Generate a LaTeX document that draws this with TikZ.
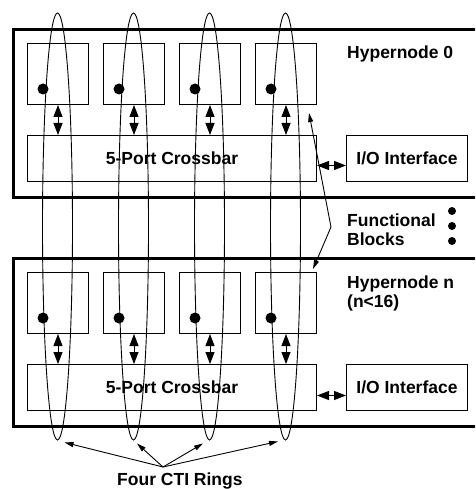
\documentclass[tikz,border=0pt]{standalone}
\usepackage{fontspec}
\setmainfont{Liberation Sans}
\usetikzlibrary{arrows.meta,shapes.geometric,calc}
\begin{document}
\begin{tikzpicture}[x=1pt,y=-1pt,
  lbl/.style={font=\fontsize{17.5}{20}\selectfont\bfseries, inner sep=0pt},
  hyper/.style={draw, line width=2.6pt, minimum width=480pt, minimum height=168pt, anchor=north west, inner sep=0pt},
  blk/.style={draw, line width=1pt, minimum width=61pt, minimum height=61pt, anchor=north west, inner sep=0pt},
  bar/.style={blk, minimum width=289pt, minimum height=46pt, font=\fontsize{17.5}{20}\selectfont\bfseries},
  iobox/.style={blk, minimum width=121pt, minimum height=46pt, font=\fontsize{17.5}{20}\selectfont\bfseries},
  ring/.style={draw, ellipse, line width=0.9pt, minimum width=30pt, minimum height=427pt, inner sep=0pt},
  dot/.style={circle, fill, inner sep=0pt, minimum size=11pt},
  sdot/.style={circle, fill, inner sep=0pt, minimum size=8pt},
  dbl/.style={line width=1pt, {Triangle[length=12pt,width=9pt]}-{Triangle[length=12pt,width=9pt]}},
  ptr/.style={line width=0.9pt, -{Triangle[length=9pt,width=5pt]}}]
\useasboundingbox (0,0) rectangle (475,489);
\clip (0,0) rectangle (475,489);

% hypernode frames
\node[hyper] (hn0) at (12,28) {};
\node[hyper] (hn1) at (12,257) {};

% functional blocks
\foreach \i in {0,1,2,3} {
  \node[blk] (a\i) at (27+76*\i,43) {};
  \node[blk] (b\i) at (27+76*\i,272) {};
}

% crossbars and I/O
\node[bar] (xa) at (27,135) {5-Port Crossbar};
\node[bar] (xb) at (27,364) {5-Port Crossbar};
\node[iobox] (ioa) at (346,135) {I/O Interface};
\node[iobox] (iob) at (346,364) {I/O Interface};

% rings
\foreach \i in {0,1,2,3} {
  \node[ring] (r\i) at (57.5+76*\i,226.5) {};
  \node[dot] (da\i) at (43+76*\i,89) {};
  \node[dot] (db\i) at (43+76*\i,318) {};
  \draw[dbl] (a\i.south) -- (a\i.south |- xa.north);
  \draw[dbl] (b\i.south) -- (b\i.south |- xb.north);
}

% crossbar to I/O
\coordinate (xae) at ($(xa.east)+(0,7)$);
\coordinate (xbe) at ($(xb.east)+(0,8)$);
\draw[dbl] (xae) -- (xae -| ioa.west);
\draw[dbl] (xbe) -- (xbe -| iob.west);

% labels
\node[lbl, anchor=base west] (h0) at (347,59) {Hypernode 0};
\node[lbl, anchor=base west] (hn) at (347,288) {Hypernode n};
\node[lbl, anchor=base west] (hn2) at (347,307) {(n<16)};
\node[lbl, anchor=base west] (fb1) at (347,226) {Functional};
\node[lbl, anchor=base west] (fb2) at (347,245) {Blocks};
\node[sdot] (fd1) at (452,211) {};
\node[sdot] (fd2) at (452,226) {};
\node[sdot] (fd3) at (452,241) {};
\node[lbl, anchor=base west] (cti) at (117,485) {Four CTI Rings};

% functional block pointers
\coordinate (fbk) at (331,227);
\draw[ptr] (fbk) -- ($(a3.south east)+(-8,8)$);
\draw[ptr] (fbk) -- ($(b3.north east)+(-4,-3)$);

% CTI ring pointers
\coordinate (ctp) at (163,467);
\draw[ptr] (ctp) -- ($(r0.south)+(7,2)$);
\draw[ptr] (ctp) -- ($(r1.south)+(3.5,3)$);
\draw[ptr] (ctp) -- ($(r2.south)+(-6.5,3)$);
\draw[ptr] (ctp) -- ($(r3.south)+(-7.5,1)$);
\end{tikzpicture}
\end{document}
